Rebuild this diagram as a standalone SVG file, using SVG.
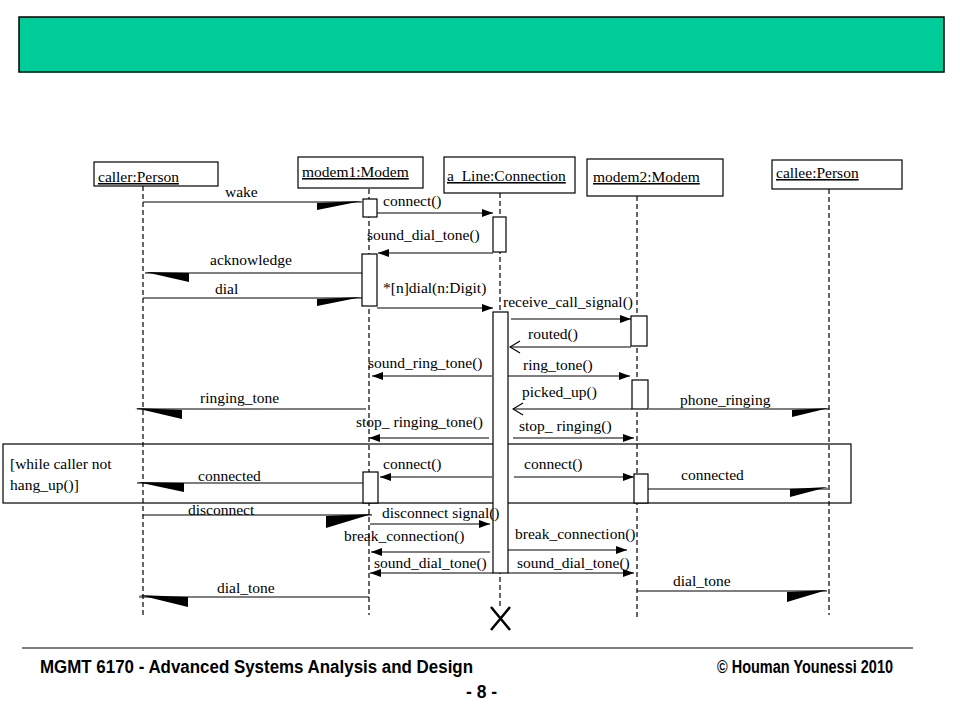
<svg xmlns="http://www.w3.org/2000/svg" width="960" height="720" viewBox="0 0 960 720">
<style>
text{font-family:"Liberation Serif","Times New Roman",serif;font-size:15.5px;fill:#000}
.obj{text-decoration:underline}
.box{fill:#fff;stroke:#000;stroke-width:1.2}
.life{stroke:#000;stroke-width:1.2;stroke-dasharray:5,3;fill:none}
.msg{stroke:#000;stroke-width:1.2;fill:none}
.foot{font-family:"Liberation Sans",Arial,sans-serif;font-weight:bold;font-size:18px}
</style>
<defs>
<marker id="ah" markerUnits="userSpaceOnUse" markerWidth="12" markerHeight="10" refX="11" refY="5" orient="auto">
<path d="M0,1 L11,5 L0,9 Z" fill="#000"/>
</marker>
<marker id="oa" markerUnits="userSpaceOnUse" markerWidth="12" markerHeight="14" refX="1" refY="7" orient="auto">
<path d="M11,1 L1,7 L11,13" fill="none" stroke="#000" stroke-width="1.2"/>
</marker>
</defs>
<rect width="960" height="720" fill="#fff"/>
<rect x="19" y="17" width="925" height="55" fill="#00CC99" stroke="#000" stroke-width="1.5"/>

<g id="lifelines">
<line class="life" x1="143" y1="186" x2="143" y2="615"/>
<line class="life" x1="369" y1="189" x2="369" y2="615"/>
<line class="life" x1="500" y1="193" x2="500" y2="606"/>
<line class="life" x1="637" y1="196" x2="637" y2="620"/>
<line class="life" x1="829" y1="189" x2="829" y2="615"/>
</g>

<g id="loop">
<rect x="3" y="444" width="848" height="59" fill="none" stroke="#000" stroke-width="1.2"/>
<text x="10" y="469">[while caller not</text>
<text x="10" y="490">hang_up()]</text>
</g>

<g id="caller">
<rect class="box" x="94" y="162" width="124" height="24"/>
<text class="obj" x="98" y="182">caller:Person</text>
</g>
<g id="modem1">
<rect class="box" x="298" y="157" width="125" height="31"/>
<text class="obj" x="302" y="177">modem1:Modem</text>
<rect class="box" x="363" y="199" width="14" height="18"/>
<rect class="box" x="362" y="254" width="15" height="52"/>
<rect class="box" x="363" y="472" width="15" height="31"/>
</g>
<g id="aLine">
<rect class="box" x="444" y="157" width="131" height="36"/>
<text class="obj" x="447" y="181">a_Line:Connection</text>
<rect class="box" x="493" y="217" width="13" height="35"/>
<rect class="box" x="493" y="312" width="15" height="261"/>
<path d="M491,607 L510,630 M510,607 L491,630" stroke="#000" stroke-width="2.5" fill="none"/>
</g>
<g id="modem2">
<rect class="box" x="587" y="159" width="136" height="37"/>
<text class="obj" x="593" y="182">modem2:Modem</text>
<rect class="box" x="631" y="316" width="16" height="30"/>
<rect class="box" x="632" y="380" width="16" height="29"/>
<rect class="box" x="634" y="474" width="14" height="29"/>
</g>
<g id="callee">
<rect class="box" x="772" y="160" width="130" height="29"/>
<text class="obj" x="776" y="178">callee:Person</text>
</g>

<g id="connectors">
<!-- half-arrow async messages -->
<line class="msg" x1="143" y1="202" x2="362" y2="202"/>
<polygon points="362,201 317,203 317,210"/>
<line class="msg" x1="362" y1="273" x2="145" y2="273"/>
<polygon points="145,272 189,273 189,282"/>
<line class="msg" x1="143" y1="298" x2="362" y2="298"/>
<polygon points="362,297 317,299 317,306"/>
<line class="msg" x1="366" y1="409" x2="137" y2="409"/>
<polygon points="135,408 182,410 182,419"/>
<line class="msg" x1="649" y1="409" x2="829" y2="409"/>
<polygon points="829,408 792,410 792,417"/>
<line class="msg" x1="363" y1="483" x2="137" y2="483"/>
<polygon points="137,482 184,483 184,492"/>
<line class="msg" x1="648" y1="489" x2="828" y2="489"/>
<polygon points="828,487 790,489 790,497"/>
<line class="msg" x1="143" y1="515" x2="372" y2="515"/>
<polygon points="372,514 326,516 326,528"/>
<line class="msg" x1="369" y1="597" x2="139" y2="597"/>
<polygon points="139,595 188,597 188,607"/>
<line class="msg" x1="637" y1="591" x2="827" y2="591"/>
<polygon points="827,590 787,592 787,602"/>
<!-- synchronous messages -->
<line class="msg" x1="377" y1="213" x2="493" y2="213" marker-end="url(#ah)"/>
<line class="msg" x1="493" y1="253" x2="378" y2="253" marker-end="url(#ah)"/>
<line class="msg" x1="377" y1="308" x2="493" y2="308" marker-end="url(#ah)"/>
<line class="msg" x1="511" y1="319" x2="631" y2="319" marker-end="url(#ah)"/>
<line class="msg" x1="510" y1="347" x2="631" y2="347" marker-start="url(#oa)"/>
<line class="msg" x1="492" y1="376" x2="372" y2="376" marker-end="url(#ah)"/>
<line class="msg" x1="508" y1="376" x2="630" y2="376" marker-end="url(#ah)"/>
<line class="msg" x1="513" y1="409" x2="632" y2="409" marker-start="url(#oa)"/>
<line class="msg" x1="489" y1="438" x2="369" y2="438" marker-end="url(#ah)"/>
<line class="msg" x1="513" y1="438" x2="634" y2="438" marker-end="url(#ah)"/>
<line class="msg" x1="492" y1="477" x2="380" y2="477" marker-end="url(#ah)"/>
<line class="msg" x1="514" y1="477" x2="634" y2="477" marker-end="url(#ah)"/>
<line class="msg" x1="370" y1="524" x2="490" y2="524" marker-end="url(#ah)"/>
<line class="msg" x1="490" y1="552" x2="371" y2="552" marker-end="url(#ah)"/>
<line class="msg" x1="508" y1="550" x2="627" y2="550" marker-end="url(#ah)"/>
<line class="msg" x1="493" y1="573" x2="370" y2="573" marker-end="url(#ah)"/>
<line class="msg" x1="508" y1="573" x2="634" y2="573" marker-end="url(#ah)"/>
</g>

<g id="labels">
<text x="225" y="197">wake</text>
<text x="383" y="206">connect()</text>
<text x="367" y="240">sound_dial_tone()</text>
<text x="210" y="265">acknowledge</text>
<text x="215" y="294">dial</text>
<text x="383" y="293">*[n]dial(n:Digit)</text>
<text x="503" y="307">receive_call_signal()</text>
<text x="528" y="339">routed()</text>
<text x="368" y="368">sound_ring_tone()</text>
<text x="523" y="370">ring_tone()</text>
<text x="200" y="403">ringing_tone</text>
<text x="522" y="397">picked_up()</text>
<text x="680" y="405">phone_ringing</text>
<text x="356" y="427">stop_ ringing_tone()</text>
<text x="519" y="431">stop_ ringing()</text>
<text x="383" y="469">connect()</text>
<text x="524" y="469">connect()</text>
<text x="198" y="481">connected</text>
<text x="681" y="480">connected</text>
<text x="188" y="515">disconnect</text>
<text x="382" y="518">disconnect signal()</text>
<text x="344" y="541">break_connection()</text>
<text x="515" y="539">break_connection()</text>
<text x="374" y="568">sound_dial_tone()</text>
<text x="517" y="568">sound_dial_tone()</text>
<text x="217" y="593">dial_tone</text>
<text x="673" y="586">dial_tone</text>
</g>

<g id="footer">
<line x1="22" y1="648" x2="913" y2="648" stroke="#000" stroke-width="1.2"/>
<text class="foot" x="40" y="673" textLength="433" lengthAdjust="spacingAndGlyphs">MGMT 6170 - Advanced Systems Analysis and Design</text>
<text class="foot" x="717" y="673" textLength="176" lengthAdjust="spacingAndGlyphs">© Houman Younessi 2010</text>
<text class="foot" x="466" y="698" textLength="31" lengthAdjust="spacingAndGlyphs">- 8 -</text>
</g>
</svg>
